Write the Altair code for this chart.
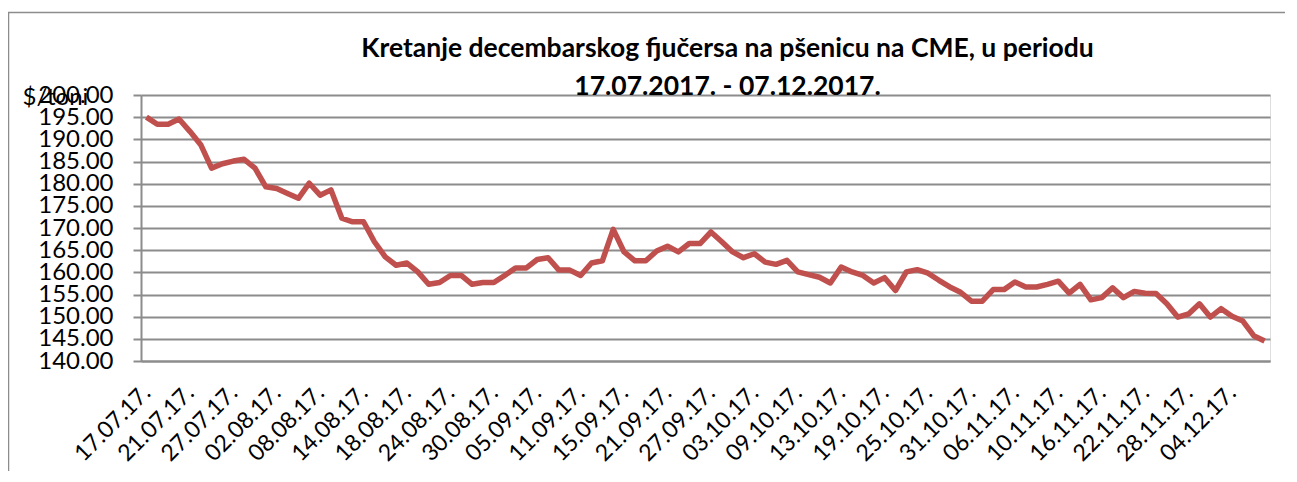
import altair as alt
import pandas as pd

# Trading days (categories) 17.07.2017 - 07.12.2017
days = [d.strftime("%d.%m.%y.") for d in pd.bdate_range("2017-07-17", "2017-12-07")]

# December wheat futures on CME, $/t
prices = [
    195.0, 193.4, 193.4, 194.6, 191.8, 188.8, 183.5, 184.5, 185.1, 185.5,
    183.5, 179.3, 178.9, 177.8, 176.7, 180.1, 177.4, 178.6, 172.2, 171.4,
    171.4, 166.9, 163.5, 161.6, 162.1, 160.1, 157.3, 157.7, 159.3, 159.3,
    157.3, 157.7, 157.7, 159.3, 161.0, 161.0, 162.9, 163.3, 160.5, 160.5,
    159.3, 162.1, 162.6, 169.7, 164.6, 162.6, 162.6, 164.8, 165.9, 164.6,
    166.5, 166.5, 169.1, 166.9, 164.6, 163.3, 164.2, 162.3, 161.8, 162.7,
    160.1, 159.5, 158.9, 157.6, 161.2, 160.1, 159.3, 157.6, 158.8, 155.9,
    160.1, 160.6, 159.8, 158.2, 156.7, 155.5, 153.5, 153.5, 156.1, 156.1,
    157.8, 156.7, 156.7, 157.3, 158.0, 155.3, 157.3, 153.8, 154.3, 156.5,
    154.3, 155.7, 155.3, 155.2, 152.9, 149.9, 150.6, 152.9, 149.9, 151.8,
    150.1, 149.0, 145.7, 144.5,
]

tick_labels = days[::4]
y_ticks = list(range(140, 201, 5))

title_lines = ["Kretanje decembarskog fjučersa na pšenicu na CME, u periodu",
               "17.07.2017. - 07.12.2017."]

df = pd.DataFrame({"day": days, "price": prices})

FONT = "Lato"
GRID = "#8C8C8C"

line = alt.Chart(df).mark_line(color="#C0504D", strokeWidth=5.5, strokeJoin="round").encode(
    x=alt.X("day:O", sort=None,
            scale=alt.Scale(type="point", padding=0.5),
            axis=alt.Axis(values=tick_labels, labelAngle=-45, labelAlign="right",
                          labelBaseline="middle", labelPadding=28, ticks=False,
                          labelFont=FONT, labelFontSize=23, labelColor="#000000",
                          domainColor=GRID, domainWidth=2, title=None,
                          labelOverlap=False)),
    y=alt.Y("price:Q",
            scale=alt.Scale(domain=[140, 200], nice=False, zero=False),
            axis=alt.Axis(values=y_ticks, format=".2f", grid=True,
                          gridColor=GRID, gridWidth=2,
                          domainColor=GRID, domainWidth=2,
                          tickColor=GRID, tickWidth=2, tickSize=8,
                          labelPadding=20, labelFont=FONT, labelFontSize=24,
                          labelColor="#000000", labelOverlap=False,
                          title="$/toni", titleAngle=0, titleX=-119, titleY=9,
                          titleAlign="left", titleBaseline="alphabetic",
                          titleFont=FONT, titleFontSize=24, titleFontWeight="normal",
                          titleColor="#000000")),
)

frame = alt.Chart(pd.DataFrame({"a": [0]})).mark_rect(
    fill=None, stroke="#8C8C8C", strokeWidth=1.5
).encode(
    x=alt.value(-132.5), x2=alt.value(1147), y=alt.value(-82.5), y2=alt.value(420)
)

chart = alt.layer(frame, line).properties(
    width=1129, height=266,
    padding={"left": 133, "top": 87, "right": 15, "bottom": 110},
    autosize=alt.AutoSizeParams(type="none"),
    title=alt.TitleParams(title_lines, font=FONT, fontSize=26.5, fontWeight="bold",
                          color="#000000", anchor="middle", dx=22, offset=-89,
                          lineHeight=38),
).configure_view(stroke=None).configure(background="white")

chart.save("out.html", embed_options={"renderer": "svg", "actions": False})
